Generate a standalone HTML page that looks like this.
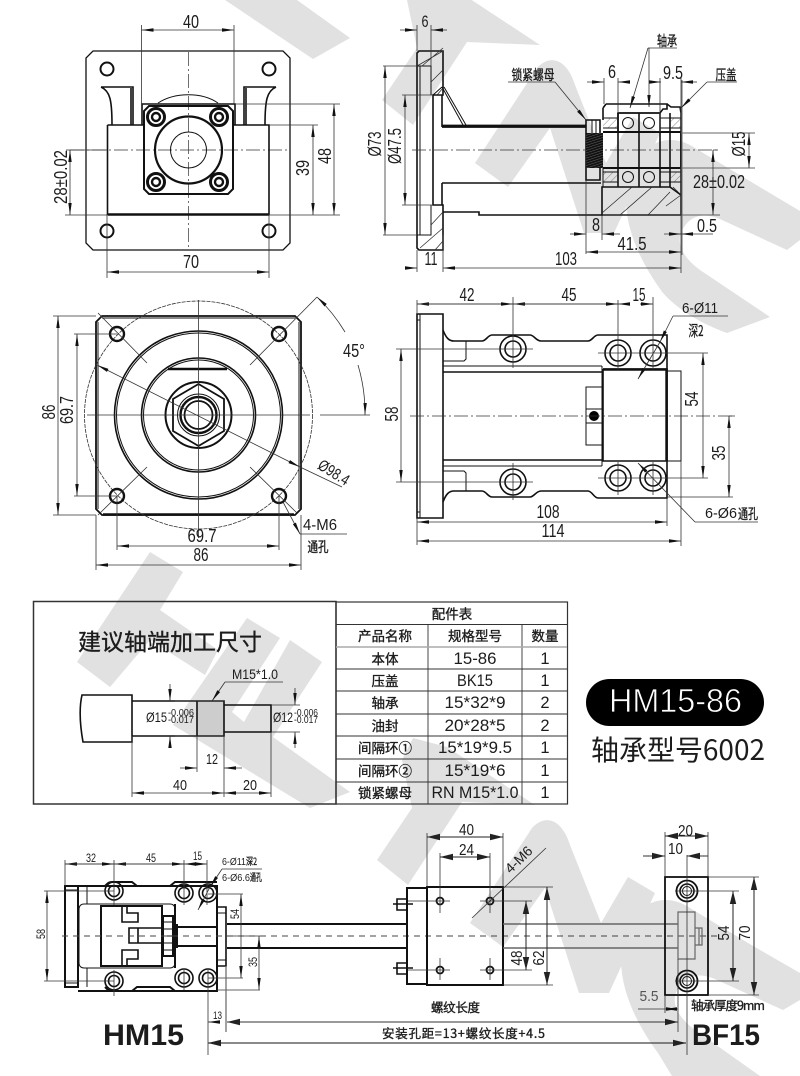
<!DOCTYPE html>
<html>
<head>
<meta charset="utf-8">
<style>
html,body{margin:0;padding:0;background:#fff}
svg{display:block}
text{font-family:"Liberation Sans","Noto Sans CJK SC",sans-serif;fill:#1c1c1c}
.cj{font-family:"Noto Sans CJK SC","WenQuanYi Zen Hei",sans-serif}
.bd{stroke:#1c1c1c;stroke-width:.35}
path,line,circle,rect,polygon{fill:none}
.e{stroke:#333;stroke-width:.8}
.g{stroke:#666;stroke-width:1}
.m{stroke:#111;stroke-width:1.6}
.s{stroke:#111;stroke-width:1}
.t{stroke:#222;stroke-width:.7}
.h{stroke:#111;stroke-width:2.4}
.c{stroke:#333;stroke-width:.7;stroke-dasharray:14 3 2 3}
.ar{stroke:#333;stroke-width:.8;marker-start:url(#a);marker-end:url(#a)}
.ae{stroke:#333;stroke-width:.8;marker-end:url(#a)}
.br{stroke:#222;stroke-width:1;marker-start:url(#b);marker-end:url(#b)}
.be{stroke:#333;stroke-width:1;marker-end:url(#b)}
.wm{fill:#e1e1e1;stroke:none}
</style>
</head>
<body>
<svg width="800" height="1076" viewBox="0 0 800 1076" xmlns="http://www.w3.org/2000/svg">
<defs>
<marker id="a" viewBox="0 0 12 4" refX="12" refY="2" markerWidth="12" markerHeight="4" markerUnits="userSpaceOnUse" orient="auto-start-reverse"><path d="M0 .3L12 2L0 3.7z" style="fill:#111"/></marker>
<marker id="b" viewBox="0 0 13 7" refX="13" refY="3.5" markerWidth="13" markerHeight="7" markerUnits="userSpaceOnUse" orient="auto-start-reverse"><path d="M0 .3L13 3.5L0 6.7z" style="fill:#222"/></marker>
<pattern id="th" width="2.4" height="2.4" patternUnits="userSpaceOnUse" patternTransform="rotate(72)"><rect width="2.4" height="2.4" style="fill:#111"/><rect width=".4" height="2.4" style="fill:#777"/></pattern>
<pattern id="ht" width="5" height="5" patternUnits="userSpaceOnUse" patternTransform="rotate(-45)"><line x1="0" y1="0" x2="5" y2="0" style="stroke:#333;stroke-width:.6"/></pattern>
</defs>
<rect width="800" height="1076" style="fill:#fff"/>

<!-- watermark -->
<g class="wm">
<polygon class="wm" points="225,0 297,0 350,38 313,59"/>
<g id="logo">
<polygon class="wm" points="418,-22 452,-13 540,45 467,42 413,125 382,100 417,48 407,0"/>
<path class="wm" d="M475 163L508 187L550 128L584 233L614 233L660 133L633 117L606 163L575 85C568 62 552 52 537 68Z"/>
<path class="wm" d="M800 211L753 183L690 145C665 132 640 145 630 175C618 212 635 255 663 293C680 312 705 325 727 333L770 317L700 270C680 255 675 240 684 227C692 215 705 212 722 220L787 250L800 240Z"/>
</g>
<polygon class="wm" points="150,552 183,572 160,610 218,650 205,675 150,640 110,687 77,662"/>
<polygon class="wm" points="247,618 280,638 232,712 244,722 290,640 322,662 273,737 350,792 310,808 173,725"/>
<polygon class="wm" points="413,738 447,747 535,805 462,802 408,885 377,860 412,808 402,760"/>
<path class="wm" d="M470 923L503 947L545 888L579 993L609 993L655 893L628 877L601 923L570 845C563 822 547 812 532 828Z"/>
<path class="wm" d="M800 973L748 943L685 905C660 892 635 905 625 935C613 972 630 1015 658 1053L672 1076L760 1076L695 1030C675 1015 670 1000 679 987C687 975 700 972 717 980L783 1010L800 1000Z"/>
</g>

<!-- VIEW 1 -->
<path class="m" style="stroke-width:1.3" d="M93 51H283L290 58V243L283 250H93L86 243V58Z"/>
<path class="c" d="M188.5 52V250M70 150H290"/>
<circle class="m" style="stroke-width:2" cx="107" cy="69" r="6.5"/><circle class="m" style="stroke-width:2" cx="269" cy="69" r="6.5"/><circle class="m" style="stroke-width:2" cx="107" cy="231" r="6.5"/><circle class="m" style="stroke-width:2" cx="269" cy="231" r="6.5"/>
<path class="m" d="M101 87H133V125M131 88V125M101 87C110 91 112 100 112 125M276 87H244V125M246 88V125M276 87C267 91 265 100 265 125"/>
<path class="m" d="M107.5 125H144M233 125H269V214.5H107.5V125"/>
<path class="h" d="M108 214.5H269"/>
<path class="s" d="M158 103C175 92 202 92 218 103"/>
<path class="h" d="M142 125V104H235V125" style="stroke-width:1.6"/>
<path class="m" style="stroke-width:2" d="M149 106H228L233 111V189L228 194H149L144 189V111Z"/>
<g class="m">
<circle class="h" style="stroke-width:3" cx="156" cy="117" r="8.5"/><circle class="h" cx="156" cy="117" r="4"/>
<circle class="h" style="stroke-width:3" cx="219" cy="117" r="8.5"/><circle class="h" cx="219" cy="117" r="4"/>
<circle class="h" style="stroke-width:3" cx="156" cy="182" r="8.5"/><circle class="h" cx="156" cy="182" r="4"/>
<circle class="h" style="stroke-width:3" cx="219" cy="182" r="8.5"/><circle class="h" cx="219" cy="182" r="4"/>
</g>
<circle class="m" style="stroke-width:2.2" cx="188.5" cy="150" r="33.5"/>
<circle class="s" cx="188.5" cy="150" r="18"/>
<path class="e" d="M141.5 25V104M234 25V104M107 214V278M269 214V278M66 150H107M65 215H108M269 125H318M235 104H340M269 215H340"/>
<path class="ar" d="M141.5 30H234"/><path class="ar" d="M107 272H269"/><path class="ar" d="M70 150V215"/><path class="ar" d="M313 125V215"/><path class="ar" d="M334 104V215"/>
<text x="191" y="28" font-size="18" text-anchor="middle" textLength="16" lengthAdjust="spacingAndGlyphs">40</text>
<text x="191" y="268" font-size="18" text-anchor="middle" textLength="16" lengthAdjust="spacingAndGlyphs">70</text>
<text transform="translate(67 177) rotate(-90)" font-size="18" text-anchor="middle" textLength="54" lengthAdjust="spacingAndGlyphs">28±0.02</text>
<text transform="translate(309 168) rotate(-90)" font-size="18" text-anchor="middle" textLength="16" lengthAdjust="spacingAndGlyphs">39</text>
<text transform="translate(331 156) rotate(-90)" font-size="18" text-anchor="middle" textLength="16" lengthAdjust="spacingAndGlyphs">48</text>

<!-- VIEW 2 -->
<path class="m" d="M419 51H443V95H433V205H443V250H419L417 248V53Z"/>
<path class="s" d="M417 66H431V95M431 205V235H417M420 66V235M433 95V205"/>
<path class="e" d="M417 66L443 51M422 66L443 48M431 82L443 70M437 95L443 88M431 225L443 212M420 248L443 228M435 250L443 241"/>
<path class="h" style="stroke-width:1.8" d="M442 125.500H586M442 127H586"/>
<path class="m" d="M442 95V127M442 183V205M442 183H601M443 212H479V215H603"/>
<path class="s" d="M442 87L463 125M444 87L466 125M433 95L442 87"/>
<path class="c" d="M412 150H718"/>
<!-- nut + thread -->
<path class="m" d="M586 120H600V180H586Z"/>
<rect x="586" y="133" width="17" height="35" style="fill:url(#th)"/>
<path class="s" d="M592 120V133M596 120V133"/>
<!-- housing -->
<path class="m" d="M606 104H667V109H663L660 113H618V132M603 108L606 104M603 108V120M667 104L671 107H680L681 113V215H602V187H618M660 187H670L681 195"/>
<path class="h" style="stroke-width:2" d="M603 132H681M603 168H681M681 132V168"/>
<path class="m" d="M618 113H660V132M618 187V168M660 168V187H618M618 113V187M660 113V187M639 113V187M660 132V168M670 113V187"/>
<path class="s" d="M603 118H618M603 128H618M660 118H681M660 128H681M603 172H618M603 182H618M660 172H681M660 182H681M603 168V187"/>
<rect x="603" y="118" width="15" height="10" style="fill:url(#ht)"/>
<rect x="603" y="172" width="15" height="10" style="fill:url(#ht)"/>
<rect x="670" y="118" width="11" height="10" style="fill:url(#ht)"/>
<rect x="670" y="172" width="11" height="10" style="fill:url(#ht)"/>
<circle class="s" cx="628" cy="123" r="5.500"/><circle class="s" cx="649" cy="123" r="5.500"/><circle class="s" cx="628" cy="177" r="5.500"/><circle class="s" cx="649" cy="177" r="5.500"/>
<path class="t" d="M602 213L632 187M620 215L652 187M648 215L670 192M666 206L681 195M673 187L681 195"/>
<path class="e" d="M417 25V51M431 25V66M383 66H417M383 235H417M402 95H433M402 205H433M417 250V272M443 235V272M681 100V273M586 180V254M602 215V240M604 78V104M618 78V113M660 78V132M681 78V104M681 133H755M681 168H755M602 215H720M713 150H718"/>
<path class="g" d="M681 133H755M681 168H755M682 80V255"/>
<path class="ae" d="M400 30H417"/><path class="ae" d="M447 30H431"/>
<path class="ar" d="M385 66V235"/><path class="ar" d="M405 95V205"/>
<path class="ae" d="M405 268H417"/><path class="ar" d="M443 268H681"/>
<path class="ar" d="M586 252H681"/>
<path class="ae" d="M570 234H586"/><path class="ae" d="M620 234H602"/>
<path class="ae" d="M664 234H681"/><path class="ae" d="M713 234H681"/>
<path class="ar" d="M713 150V215"/><path class="ar" d="M749 133V168"/>
<path class="ae" d="M587 82H604"/><path class="ae" d="M630 82H618"/>
<path class="ae" d="M649 82H661"/><path class="ae" d="M697 82H681"/>
<path class="e" d="M677 48H648"/><path class="ae" d="M648 48L630 108"/><path class="ae" d="M649 48V107"/>
<path class="e" d="M737 82H707"/><path class="ae" d="M707 82L681 108"/>
<path class="e" d="M508 82H555"/><path class="ae" d="M555 82L586 120"/>
<text x="425" y="27" font-size="17" text-anchor="middle" textLength="7" lengthAdjust="spacingAndGlyphs">6</text>
<text transform="translate(381 144) rotate(-90)" font-size="18" text-anchor="middle" textLength="25" lengthAdjust="spacingAndGlyphs">Ø73</text>
<text transform="translate(401 146) rotate(-90)" font-size="18" text-anchor="middle" textLength="36" lengthAdjust="spacingAndGlyphs">Ø47.5</text>
<text x="431" y="265" font-size="18" text-anchor="middle" textLength="13" lengthAdjust="spacingAndGlyphs">11</text>
<text x="566" y="265" font-size="18" text-anchor="middle" textLength="22" lengthAdjust="spacingAndGlyphs">103</text>
<text x="632" y="250" font-size="18" text-anchor="middle" textLength="29" lengthAdjust="spacingAndGlyphs">41.5</text>
<text x="596" y="231" font-size="18" text-anchor="middle" textLength="8" lengthAdjust="spacingAndGlyphs">8</text>
<text x="707" y="232" font-size="18" text-anchor="middle" textLength="20" lengthAdjust="spacingAndGlyphs">0.5</text>
<text x="719" y="188" font-size="18" text-anchor="middle" textLength="52" lengthAdjust="spacingAndGlyphs">28±0.02</text>
<text transform="translate(745 144) rotate(-90)" font-size="18" text-anchor="middle" textLength="25" lengthAdjust="spacingAndGlyphs">Ø15</text>
<text x="612" y="78" font-size="18" text-anchor="middle" textLength="8" lengthAdjust="spacingAndGlyphs">6</text>
<text x="673" y="79" font-size="18" text-anchor="middle" textLength="20" lengthAdjust="spacingAndGlyphs">9.5</text>
<text class="cj bd" x="667" y="46" font-size="14" text-anchor="middle" textLength="20" lengthAdjust="spacingAndGlyphs">轴承</text>
<text class="cj bd" x="726" y="80" font-size="14" text-anchor="middle" textLength="21" lengthAdjust="spacingAndGlyphs">压盖</text>
<text class="cj bd" x="533" y="80" font-size="14" text-anchor="middle" textLength="43" lengthAdjust="spacingAndGlyphs">锁紧螺母</text>

<!-- VIEW 3 -->
<path class="m" style="stroke-width:1.8" d="M102 316H295L301 322V509L295 515H102L96 509V322Z"/>
<path class="s" d="M98 322V509M299 322V509M102 318H295"/>
<path class="h" d="M103 514.500H294"/>
<circle class="e" style="stroke-dasharray:4 1" cx="198.500" cy="415" r="114"/>
<circle class="m" cx="198.500" cy="415" r="84"/><circle class="s" cx="198.500" cy="415" r="82"/>
<circle class="m" cx="198.500" cy="415" r="57"/><circle class="s" cx="198.500" cy="415" r="55"/>
<path class="h" d="M168 369H227"/>
<circle class="h" cx="117" cy="334" r="7"/><circle class="h" cx="279" cy="334" r="7"/><circle class="h" cx="117" cy="496" r="7"/><circle class="h" cx="279" cy="496" r="7"/>
<circle class="h" style="stroke-width:2" cx="198.500" cy="415" r="33"/>
<path class="h" style="stroke-width:1.8" d="M198.500 384L224 399V431L198.500 446L173 431V399Z"/>
<circle class="s" cx="198.500" cy="415" r="21"/><circle class="h" cx="198.500" cy="415" r="18"/><circle class="h" style="stroke-width:1.8" cx="198.500" cy="415" r="14"/>
<path class="e" d="M87 415H310M320 415H370M198.500 300V538M98 313L147 363M317 297L250 365M98 515L147 467M297 513L250 467"/>
<path class="ar" d="M97 365L300 467"/><path class="e" d="M300 467L342 487"/>
<path class="e" d="M53 316H96M53 515H96M74 334H117M74 496H117M117 496V550M279 496V550M96 515V570M301 515V570"/>
<path class="ar" d="M58 316V515"/><path class="ar" d="M77 334V496"/><path class="ar" d="M117 546H279"/><path class="ar" d="M96 565H301"/>
<path class="e" style="marker-start:url(#a)" d="M317 297A167 167 0 0 1 345 332"/>
<path class="e" style="marker-end:url(#a)" d="M358 365A167 167 0 0 1 365 415"/>
<path class="ae" d="M283 502L300 534"/><path class="e" d="M300 534H347"/>
<text x="354" y="357" font-size="18" text-anchor="middle" textLength="22" lengthAdjust="spacingAndGlyphs">45°</text>
<text transform="translate(55 412) rotate(-90)" font-size="18" text-anchor="middle" textLength="15" lengthAdjust="spacingAndGlyphs">86</text>
<text transform="translate(73 410) rotate(-90)" font-size="18" text-anchor="middle" textLength="28" lengthAdjust="spacingAndGlyphs">69.7</text>
<text x="202" y="542" font-size="18" text-anchor="middle" textLength="29" lengthAdjust="spacingAndGlyphs">69.7</text>
<text x="201" y="561" font-size="18" text-anchor="middle" textLength="15" lengthAdjust="spacingAndGlyphs">86</text>
<text transform="translate(331 477) rotate(32)" font-size="16" text-anchor="middle" textLength="34" lengthAdjust="spacingAndGlyphs">Ø98.4</text>
<text x="320" y="530" font-size="16" text-anchor="middle" textLength="34" lengthAdjust="spacingAndGlyphs">4-M6</text>
<text class="cj bd" x="318" y="552" font-size="14" text-anchor="middle" textLength="21" lengthAdjust="spacingAndGlyphs">通孔</text>

<!-- VIEW 4 -->
<path class="m" d="M417 314H443V518H417Z"/><path class="s" d="M420 314V518M417 320H420M417 512H420"/>
<path class="m" d="M443 330C446 338 449 341 454 341H482C486 341 488 335 492 335H530C534 335 536 341 541 341H588C592 341 594 335 598 335H667V498H598C594 498 592 491 588 491H541C536 491 534 497 530 497H492C488 497 486 491 482 491H454C449 491 446 494 443 502"/>
<path class="s" d="M443 361H464L466 359V341M443 471H464L466 473V491M443 366H602M443 466H602M602 366V466"/>
<path class="m" d="M443 372H603M443 460H603"/>
<path class="m" d="M603 369H667V461H603V369"/><path class="h" d="M603 369.500H667M666.500 369V461"/>
<path class="s" d="M667 371H681V461H667"/>
<path class="s" d="M586 387H602V445H586ZM586 409H602M586 423H602"/>
<circle cx="594" cy="416" r="5" style="fill:#000"/>
<g>
<circle class="m" cx="513" cy="349" r="13"/><circle class="m" cx="513" cy="349" r="8"/>
<circle class="m" cx="618" cy="353" r="13"/><circle class="m" cx="618" cy="353" r="8"/>
<circle class="m" cx="653" cy="353" r="13"/><circle class="m" cx="653" cy="353" r="8"/>
<circle class="m" cx="513" cy="482" r="13"/><circle class="m" cx="513" cy="482" r="8"/>
<circle class="m" cx="618" cy="478" r="13"/><circle class="m" cx="618" cy="478" r="8"/>
<circle class="m" cx="653" cy="478" r="13"/><circle class="m" cx="653" cy="478" r="8"/>
</g>
<path class="c" d="M410 416H735"/>
<path class="e" d="M417 300V314M513 297V368M618 300V370M653 297V370M513 463V500M618 462V495M653 462V495M396 349H533M396 482H533M598 353H708M598 478H708M667 497H733M667 498V526M417 518V545M681 461V546M729 416H735"/>
<path class="ae" d="M513 304H417"/><path class="ae" d="M417 304H513"/><path class="ae" d="M618 304H513"/><path class="ae" d="M513 304H618"/><path class="ae" d="M630 304H618"/><path class="ae" d="M640 304H653"/>
<path class="ar" d="M401 349V482"/><path class="ar" d="M703 353V478"/><path class="ar" d="M729 416V497"/>
<path class="ar" d="M417 522H667"/><path class="ar" d="M417 541H681"/>
<path class="e" d="M673 316H728"/><path class="ae" d="M673 316L660 342"/>
<path class="ae" d="M660 342L638 379"/>
<path class="e" d="M695 522H758"/><path class="ae" d="M695 522L638 463"/>
<text x="467" y="301" font-size="18" text-anchor="middle" textLength="15" lengthAdjust="spacingAndGlyphs">42</text>
<text x="569" y="301" font-size="18" text-anchor="middle" textLength="15" lengthAdjust="spacingAndGlyphs">45</text>
<text x="639" y="301" font-size="18" text-anchor="middle" textLength="13" lengthAdjust="spacingAndGlyphs">15</text>
<text transform="translate(398 414) rotate(-90)" font-size="18" text-anchor="middle" textLength="15" lengthAdjust="spacingAndGlyphs">58</text>
<text transform="translate(698 399) rotate(-90)" font-size="18" text-anchor="middle" textLength="15" lengthAdjust="spacingAndGlyphs">54</text>
<text transform="translate(725 453) rotate(-90)" font-size="18" text-anchor="middle" textLength="15" lengthAdjust="spacingAndGlyphs">35</text>
<text x="548" y="518" font-size="18" text-anchor="middle" textLength="23" lengthAdjust="spacingAndGlyphs">108</text>
<text x="553" y="537" font-size="18" text-anchor="middle" textLength="23" lengthAdjust="spacingAndGlyphs">114</text>
<text x="700" y="313" font-size="15" text-anchor="middle" textLength="36" lengthAdjust="spacingAndGlyphs">6-Ø11</text>
<text class="cj bd" x="696" y="336" font-size="15" text-anchor="middle" textLength="15" lengthAdjust="spacingAndGlyphs">深2</text>
<text x="721" y="518" font-size="15" text-anchor="middle" textLength="32" lengthAdjust="spacingAndGlyphs">6-Ø6</text>
<text class="cj bd" x="748" y="519" font-size="14" text-anchor="middle" textLength="20" lengthAdjust="spacingAndGlyphs">通孔</text>

<!-- PANEL -->
<rect x="33.500" y="601.500" width="302.500" height="202.500" style="stroke:#333;stroke-width:1.5"/>
<text class="cj bd" x="78" y="650" font-size="23" textLength="184" lengthAdjust="spacing">建议轴端加工尺寸</text>
<rect x="197" y="701" width="27" height="35" style="fill:#cdcdcd"/>
<path class="m" d="M132 695H82C79 708 80 725 83 742H132ZM132 701H224V736H132M224 705H271V732H224M197 701V736"/>
<path class="e" d="M175 701H224M175 736H224M271 705H300M271 732H300M132 736V797M197 736V772M224 736V797M271 732V797"/>
<path class="ae" d="M170 684V701"/><path class="ae" d="M170 748V736"/><path class="ae" d="M295 688V705"/><path class="ae" d="M295 748V732"/>
<path class="e" d="M225 682H283"/><path class="ae" d="M225 682L212 701"/>
<path class="ae" d="M180 768H197"/><path class="ae" d="M242 768H224"/>
<path class="ar" d="M132 793H224"/><path class="ar" d="M224 793H271"/>
<text x="146" y="722" font-size="14" textLength="21" lengthAdjust="spacingAndGlyphs">Ø15</text>
<text x="168" y="716" font-size="10" textLength="26" lengthAdjust="spacingAndGlyphs">-0.006</text>
<text x="168" y="723" font-size="10" textLength="26" lengthAdjust="spacingAndGlyphs">-0.017</text>
<text x="273" y="722" font-size="14" textLength="20" lengthAdjust="spacingAndGlyphs">Ø12</text>
<text x="294" y="716" font-size="10" textLength="24" lengthAdjust="spacingAndGlyphs">-0.006</text>
<text x="294" y="723" font-size="10" textLength="24" lengthAdjust="spacingAndGlyphs">-0.017</text>
<text x="255" y="679" font-size="14" text-anchor="middle" textLength="46" lengthAdjust="spacingAndGlyphs">M15*1.0</text>
<text x="212" y="764" font-size="15" text-anchor="middle" textLength="12" lengthAdjust="spacingAndGlyphs">12</text>
<text x="180" y="790" font-size="15" text-anchor="middle" textLength="14" lengthAdjust="spacingAndGlyphs">40</text>
<text x="250" y="790" font-size="15" text-anchor="middle" textLength="14" lengthAdjust="spacingAndGlyphs">20</text>

<!-- TABLE -->
<rect x="336" y="602" width="231.500" height="202" style="stroke:#333;stroke-width:1.2"/>
<path class="e" style="stroke-width:.9" d="M336 624.500H567M336 669H567M336 691H567M336 714H567M336 736H567M336 759H567M336 782H567M428 624.500V804M522 624.500V804"/>
<path style="stroke:#aaa;stroke-width:1.6" d="M336 647H567"/>
<g font-size="13.500" text-anchor="middle">
<text class="cj bd" x="452" y="619">配件表</text>
<text class="cj bd" x="385" y="641">产品名称</text><text class="cj bd" x="475" y="641">规格型号</text><text class="cj bd" x="545" y="641">数量</text>
<text class="cj bd" x="385" y="664">本体</text><text class="cj bd" x="385" y="686">压盖</text><text class="cj bd" x="385" y="708">轴承</text><text class="cj bd" x="385" y="731">油封</text>
<text class="cj bd" x="385" y="753">间隔环①</text><text class="cj bd" x="385" y="776">间隔环②</text><text class="cj bd" x="385" y="798">锁紧螺母</text>
</g>
<g font-size="16.500" text-anchor="middle">
<text x="475" y="664" textLength="43" lengthAdjust="spacingAndGlyphs">15-86</text>
<text x="475" y="686" textLength="36" lengthAdjust="spacingAndGlyphs">BK15</text>
<text x="475" y="708" textLength="61" lengthAdjust="spacingAndGlyphs">15*32*9</text>
<text x="475" y="731" textLength="61" lengthAdjust="spacingAndGlyphs">20*28*5</text>
<text x="475" y="753" textLength="74" lengthAdjust="spacingAndGlyphs">15*19*9.5</text>
<text x="475" y="776" textLength="61" lengthAdjust="spacingAndGlyphs">15*19*6</text>
<text x="475" y="798" textLength="87" lengthAdjust="spacingAndGlyphs">RN M15*1.0</text>
<text x="545" y="664">1</text><text x="545" y="686">1</text><text x="545" y="708">2</text><text x="545" y="731">2</text><text x="545" y="753">1</text><text x="545" y="776">1</text><text x="545" y="798">1</text>
</g>

<!-- PILL -->
<rect x="586" y="679" width="178" height="47" rx="23.500" style="fill:#000"/>
<text x="675.500" y="712" font-size="33" text-anchor="middle" textLength="133" lengthAdjust="spacingAndGlyphs" style="fill:#fff;stroke:#000;stroke-width:.7">HM15-86</text>
<text class="cj" x="591" y="760" font-size="28" textLength="174" lengthAdjust="spacing">轴承型号6002</text>

<!-- BOTTOM LEFT -->
<path class="m" style="stroke-width:2" d="M65 886H78V987H65ZM78 886H217V991H78"/>
<path class="s" d="M87 886V904M87 968V987M65 890H78M65 983H78"/>
<path class="m" style="stroke-width:2" d="M105 886C108 883 109 882 112 882H132L137 886H170L175 882H217M105 987C108 990 109 991 112 991H132L137 987H170L175 991H217"/>
<path class="s" d="M84 904H170C173 904 175 906 175 909V963C175 966 173 968 170 968H84C81 968 79 966 79 963V909C79 906 81 904 84 904Z"/>
<rect class="h" x="101" y="906" width="61" height="60" style="stroke-width:2"/>
<path class="m" d="M122 906V922H138V913H127V906M122 966V950H138V959H127V966M129 928H138V943H129ZM138 928H162M138 943H162"/>
<path class="m" style="stroke-width:2" d="M163 916H173V956H163ZM173 927H217M173 946H217M175 904V968M173 925H177V947H173"/>
<path class="s" d="M163 922H173M163 929H173M163 936H173M163 943H173M163 950H173"/>
<path class="m" d="M217 907H226V966H217Z"/><path class="s" d="M217 913H226M217 960H226"/>
<path class="h" style="stroke-width:2" d="M227 924H407M227 948H407"/>
<g>
<circle class="m" cx="114" cy="891" r="9"/><circle class="m" cx="114" cy="891" r="5.500"/>
<circle class="m" cx="184" cy="893" r="9"/><circle class="m" cx="184" cy="893" r="5.500"/>
<circle class="m" cx="208" cy="893" r="9"/><circle class="m" cx="208" cy="893" r="5.500"/>
<circle class="m" cx="114" cy="981" r="9"/><circle class="m" cx="114" cy="981" r="5.500"/>
<circle class="m" cx="184" cy="978" r="9"/><circle class="m" cx="184" cy="978" r="5.500"/>
<circle class="m" cx="208" cy="978" r="9"/><circle class="m" cx="208" cy="978" r="5.500"/>
</g>
<path style="stroke:#444;stroke-width:1;stroke-dasharray:6 5" d="M62 936H722"/>
<path class="e" d="M65 860V886M114 860V905M184 860V905M207 860V905M44 891H114M44 981H114M208 894H243M208 978H243M217 990H260M227 936H260M114 970V996M184 970V990M208 970V1055"/>
<path class="g" style="stroke-width:1.2" d="M226 966V1032"/>
<path class="ae" d="M114 864H65"/><path class="ae" d="M65 864H114"/><path class="ae" d="M184 864H114"/><path class="ae" d="M114 864H184"/><path class="ae" d="M193 864H184"/><path class="ae" d="M198 864H207"/>
<path class="ar" d="M47 891V981"/><path class="ar" d="M241 894V978"/><path class="ar" d="M259 936V990"/>
<path class="e" d="M222 869H262"/><path class="ae" d="M222 869L210 887"/><path class="ae" d="M210 887L198 910"/>
<path class="ae" d="M215 1022H208"/>
<path style="stroke:#333;stroke-width:1;marker-start:url(#b);marker-end:url(#b)" d="M227 1022H678"/>
<path style="stroke:#444;stroke-width:1.200;marker-start:url(#b);marker-end:url(#b)" d="M208 1043H686"/>
<text x="91" y="862" font-size="12" text-anchor="middle" textLength="10" lengthAdjust="spacingAndGlyphs">32</text>
<text x="151" y="862" font-size="12" text-anchor="middle" textLength="10" lengthAdjust="spacingAndGlyphs">45</text>
<text x="197.500" y="860" font-size="12" text-anchor="middle" textLength="9" lengthAdjust="spacingAndGlyphs">15</text>
<text x="222" y="865" font-size="10" textLength="24" lengthAdjust="spacingAndGlyphs">6-Ø11</text><text class="cj bd" x="246" y="865" font-size="10" textLength="11" lengthAdjust="spacingAndGlyphs">深2</text>
<text x="222" y="881" font-size="10" textLength="28" lengthAdjust="spacingAndGlyphs">6-Ø6.6</text><text class="cj bd" x="250" y="881" font-size="10" textLength="12" lengthAdjust="spacingAndGlyphs">通孔</text>
<text transform="translate(45 934) rotate(-90)" font-size="12" text-anchor="middle" textLength="10" lengthAdjust="spacingAndGlyphs">58</text>
<text transform="translate(239 914) rotate(-90)" font-size="12" text-anchor="middle" textLength="10" lengthAdjust="spacingAndGlyphs">54</text>
<text transform="translate(257 962) rotate(-90)" font-size="12" text-anchor="middle" textLength="10" lengthAdjust="spacingAndGlyphs">35</text>
<text x="217.500" y="1019" font-size="11" text-anchor="middle" textLength="9" lengthAdjust="spacingAndGlyphs">13</text>
<text x="103" y="1045" font-size="30" font-weight="700" textLength="81" lengthAdjust="spacingAndGlyphs">HM15</text>

<!-- MIDDLE BLOCK -->
<rect class="h" style="stroke-width:2" x="427" y="887" width="76" height="98"/>
<path class="m" style="stroke-width:2" d="M427 888H407V984H427M407 924V948"/>
<path class="m" d="M397 899H407V910H397ZM397 963H407V974H397Z"/>
<path class="m" style="stroke-width:1.4" d="M393 904H413M393 968H413"/>
<path class="g" style="stroke-width:1.500" d="M503 924H678M503 948H678"/>
<g>
<circle class="h" style="stroke-width:1.800" cx="440" cy="901" r="3.500"/><circle class="h" style="stroke-width:1.800" cx="490" cy="901" r="3.500"/><circle class="h" style="stroke-width:1.800" cx="440" cy="970" r="3.500"/><circle class="h" style="stroke-width:1.800" cx="490" cy="970" r="3.500"/>
</g>
<path class="e" d="M408 901H450M480 901H532M408 970H450M480 970H532M440 853V913M490 853V913M440 958V980M490 958V980M427 833V887M503 833V887M503 887H553M503 985H553M472 918L546 848"/>
<path class="br" d="M427 837H503"/><path class="br" d="M440 857H490"/><path class="br" d="M526 901V970"/><path class="br" d="M547 887V985"/>
<text x="466.500" y="835" font-size="16" text-anchor="middle" textLength="15" lengthAdjust="spacingAndGlyphs">40</text>
<text x="466.500" y="855" font-size="16" text-anchor="middle" textLength="15" lengthAdjust="spacingAndGlyphs">24</text>
<text transform="translate(522 863) rotate(-44)" font-size="14" text-anchor="middle" textLength="32" lengthAdjust="spacingAndGlyphs">4-M6</text>
<text transform="translate(522 958) rotate(-90)" font-size="16" text-anchor="middle" textLength="15" lengthAdjust="spacingAndGlyphs">48</text>
<text transform="translate(544 958) rotate(-90)" font-size="16" text-anchor="middle" textLength="15" lengthAdjust="spacingAndGlyphs">62</text>
<text class="cj bd" x="455.500" y="1012" font-size="12.500" text-anchor="middle" textLength="49" lengthAdjust="spacing">螺纹长度</text>
<text class="cj bd" x="382" y="1038" font-size="12.500" textLength="163" lengthAdjust="spacing">安装孔距=13+螺纹长度+4.5</text>

<!-- BF15 -->
<rect class="h" style="stroke-width:1.800" x="665" y="877" width="43" height="118"/>
<path class="g" style="stroke-width:1.200" d="M678 912H695V959H678ZM695 928H702V945H695ZM699 928V945"/>
<circle class="h" style="stroke-width:1.800" cx="687" cy="891" r="10.500"/><circle class="m" cx="687" cy="891" r="7"/><circle class="s" cx="687" cy="891" r="4.500"/>
<circle class="h" style="stroke-width:1.800" cx="687" cy="981" r="10.500"/><circle class="m" cx="687" cy="981" r="7"/><circle class="s" cx="687" cy="981" r="4.500"/>
<path class="e" d="M687 855V1055M665 832V877M708 832V877M675 891H739M675 981H739M708 877H759M708 995H759"/>
<path class="e" d="M665 995V1013M678 959V1032M638 1009H665"/>
<path class="br" d="M665 836H708"/><path class="be" d="M643 856H665"/><path class="be" d="M708 856H687"/>
<path class="br" d="M733 891V981"/><path class="br" d="M754 877V995"/>
<path class="ar" style="stroke-width:.6" d="M665 1009H678"/>
<text x="685.500" y="836" font-size="16" text-anchor="middle" textLength="15" lengthAdjust="spacingAndGlyphs">20</text>
<text x="675.500" y="854" font-size="16" text-anchor="middle" textLength="15" lengthAdjust="spacingAndGlyphs">10</text>
<text transform="translate(729 933) rotate(-90)" font-size="16" text-anchor="middle" textLength="15" lengthAdjust="spacingAndGlyphs">54</text>
<text transform="translate(750 933) rotate(-90)" font-size="16" text-anchor="middle" textLength="15" lengthAdjust="spacingAndGlyphs">70</text>
<text x="649" y="1001" font-size="15" text-anchor="middle" textLength="19" lengthAdjust="spacingAndGlyphs" style="fill:#555">5.5</text>
<text class="cj bd" x="691" y="1010" font-size="12.500" textLength="74" lengthAdjust="spacing">轴承厚度9mm</text>
<text x="692" y="1045" font-size="30" font-weight="700" textLength="68" lengthAdjust="spacingAndGlyphs">BF15</text>
</svg>
</body>
</html>
